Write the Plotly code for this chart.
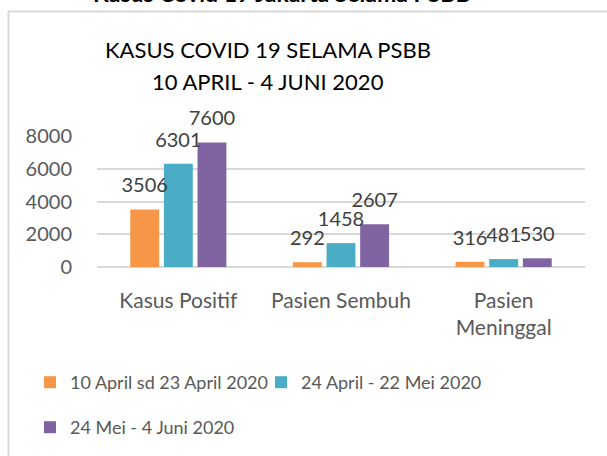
import plotly.graph_objects as go

categories = ["Kasus Positif", "Pasien Sembuh", "Pasien<br>Meninggal"]
series_names = ["10 April sd 23 April 2020", "24 April - 22 Mei 2020", "24 Mei - 4 Juni 2020"]
series1 = [3506, 292, 316]
series2 = [6301, 1458, 481]
series3 = [7600, 2607, 530]
colors = ["#F79646", "#4BACC6", "#8064A2"]
tick_vals = [0, 2000, 4000, 6000, 8000]

FONT = "Lato"
W, H = 607, 456
L, R, T, B = 97, 22, 136, 189
pw, ph = W - L - R, H - T - B

def px_x(x):
    return (x - L) / pw

def px_y(y):
    return (H - B - y) / ph

fig = go.Figure()
all_series = [series1, series2, series3]
for i, (name, vals) in enumerate(zip(series_names, all_series)):
    fig.add_trace(go.Bar(
        x=categories, y=vals, name=name,
        marker=dict(color=colors[i], line=dict(width=0)),
        legend="legend" if i < 2 else "legend2",
        hoverinfo="skip",
    ))
# data labels, grouped like the bars and lifted above the bar tops
for i, (name, vals) in enumerate(zip(series_names, all_series)):
    fig.add_trace(go.Scatter(
        x=categories, y=vals, mode="markers+text", showlegend=False,
        text=[str(v) for v in vals], textposition="top center",
        textfont=dict(family=FONT, size=20, color="#404040"),
        marker=dict(size=18, opacity=0), cliponaxis=False, hoverinfo="skip",
    ))

legend_font = dict(family=FONT, size=18, color="#595959")
fig.update_layout(
    width=W, height=H,
    margin=dict(l=L, r=R, t=T, b=B, pad=0, autoexpand=False),
    paper_bgcolor="white", plot_bgcolor="white",
    barmode="group", bargap=0.38, bargroupgap=0.14,
    scattermode="group", scattergap=0.38,
    font=dict(family=FONT, color="#595959"),
    showlegend=True,
    legend=dict(orientation="h", x=px_x(30), y=px_y(364), xanchor="left", yanchor="top",
                font=legend_font, bgcolor="rgba(0,0,0,0)", itemwidth=30,
                entrywidth=186, entrywidthmode="pixels"),
    legend2=dict(orientation="h", x=px_x(30), y=px_y(409), xanchor="left", yanchor="top",
                 font=legend_font, bgcolor="rgba(0,0,0,0)", itemwidth=30),
    xaxis=dict(showline=False, ticks="", ticklabelstandoff=19,
               tickfont=dict(family=FONT, size=21, color="#595959")),
    yaxis=dict(range=[0, 8000], tickvals=tick_vals, showgrid=True, gridcolor="#D9D9D9",
               gridwidth=2, zeroline=True, zerolinecolor="#D9D9D9", zerolinewidth=2,
               ticks="", ticklabelstandoff=24,
               tickfont=dict(family=FONT, size=20, color="#595959")),
    title=dict(text="KASUS COVID 19 SELAMA PSBB",
               x=px_x(268), xanchor="center", xref="paper", y=1 - 50 / H, yanchor="middle",
               font=dict(family=FONT, size=22, color="#000000")),
)

# second title line
fig.add_annotation(text="10 APRIL - 4 JUNI 2020", xref="paper", yref="paper",
                   x=px_x(268), y=px_y(81), xanchor="center", yanchor="middle", showarrow=False,
                   font=dict(family=FONT, size=22, color="#000000"))

# outer chart frame (left and top borders)
fig.add_shape(type="line", xref="paper", yref="paper", x0=px_x(8.5), x1=px_x(8.5),
              y0=px_y(11), y1=px_y(460), line=dict(color="#D9D9D9", width=2))
fig.add_shape(type="line", xref="paper", yref="paper", x0=px_x(8), x1=px_x(610),
              y0=px_y(11.5), y1=px_y(11.5), line=dict(color="#D9D9D9", width=2))

# cut-off document heading at top
fig.add_annotation(text="<b>Kasus Covid 19 Jakarta Selama PSBB</b>", xref="paper", yref="paper",
                   x=px_x(282), y=px_y(9), xanchor="center", yanchor="bottom", showarrow=False,
                   font=dict(family=FONT, size=23, color="#000000"))

fig.write_html("out.html", config={"displayModeBar": False},
               post_script="document.body.style.margin='0';")
